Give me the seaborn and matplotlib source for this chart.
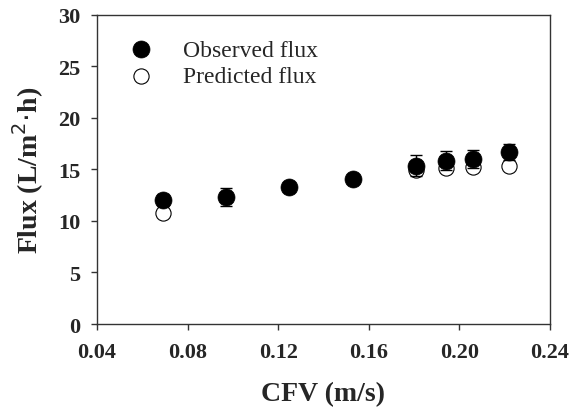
import matplotlib
matplotlib.use("Agg")
import matplotlib.pyplot as plt
import seaborn as sns
import pandas as pd
import numpy as np

cfv = [0.069, 0.097, 0.125, 0.153, 0.181, 0.194, 0.206, 0.222]
observed = [12.0, 12.3, 13.3, 14.05, 15.35, 15.85, 16.0, 16.7]
observed_err = [0.6, 0.9, 0.5, 0.4, 1.0, 0.9, 0.9, 0.8]
predicted_cfv = [0.069, 0.181, 0.194, 0.206, 0.222]
predicted = [10.75, 14.95, 15.1, 15.2, 15.35]

sns.set_theme(style="ticks")
plt.rcParams['font.family'] = ['Liberation Serif', 'DejaVu Serif']

fig = plt.figure(figsize=(5.74, 4.10), dpi=100)
ax = fig.add_axes([0.169, 0.2073, 0.789, 0.7544])

df_obs = pd.DataFrame({"CFV": cfv, "Flux": observed})
df_pred = pd.DataFrame({"CFV": predicted_cfv, "Flux": predicted})

sns.scatterplot(data=df_pred, x="CFV", y="Flux", ax=ax, s=120, facecolor="white",
                edgecolor="black", linewidth=0.8, label="Predicted flux", zorder=2)
ax.errorbar(cfv, observed, yerr=observed_err, fmt="none", ecolor="black",
            elinewidth=1.0, capsize=4, capthick=1.0, zorder=3)
sns.scatterplot(data=df_obs, x="CFV", y="Flux", ax=ax, s=150, color="black",
                edgecolor="black", linewidth=0.5, label="Observed flux", zorder=4)

ax.set_xlim(0.04, 0.24)
ax.set_ylim(0, 30)
ax.set_xticks([0.04, 0.08, 0.12, 0.16, 0.20, 0.24])
ax.set_xticklabels(["0.04", "0.08", "0.12", "0.16", "0.20", "0.24"])
ax.set_yticks([0, 5, 10, 15, 20, 25, 30])
for lab in ax.get_xticklabels() + ax.get_yticklabels():
    lab.set_fontweight("bold")
    lab.set_fontsize(16)
ax.tick_params(direction="out", length=4, width=1, color="#333333")
ax.tick_params(axis="x", pad=9)
ax.tick_params(axis="y", pad=8)
for sp in ax.spines.values():
    sp.set_visible(True)
    sp.set_color("#333333")
    sp.set_linewidth(1)

ax.set_xlabel("CFV (m/s)", fontsize=20, fontweight="bold", labelpad=14)
ax.set_ylabel(r"Flux (L/m$^{2}$$\cdot$h)", fontsize=20, fontweight="bold", labelpad=9)

handles, labels = ax.get_legend_handles_labels()
order = [labels.index("Observed flux"), labels.index("Predicted flux")]
ax.legend([handles[i] for i in order], [labels[i] for i in order], frameon=False,
          loc="upper left", bbox_to_anchor=(-0.002, 0.99), fontsize=17,
          handletextpad=0.8, labelspacing=0.2)

fig.savefig("out.png", dpi=100)
